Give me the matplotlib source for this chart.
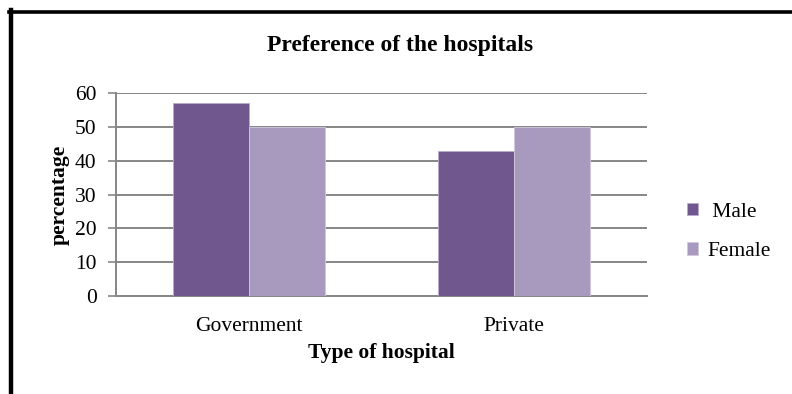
import matplotlib.pyplot as plt
import numpy as np
from matplotlib.lines import Line2D

plt.rcParams['font.family'] = ['Liberation Serif', 'DejaVu Serif']

# hospital preference by gender (%)
categories = ["Government", "Private"]
male = [57.1, 42.9]
female = [50.0, 50.0]
series_labels = [" Male", "Female"]

MALE_COLOR = "#70588E"
FEMALE_COLOR = "#A899BE"
GRID_COLOR = "#868686"
FS = 15.5

fig = plt.figure(figsize=(7.92, 3.94), dpi=100)
ax = fig.add_axes([116 / 792, 1 - 296 / 394, (647 - 116) / 792, (296 - 93) / 394])

x = np.arange(len(categories))
width = 0.2857
b1 = ax.bar(x - width / 2, male, width, color=MALE_COLOR, edgecolor="#B9AACD", linewidth=0.6, zorder=3)
b2 = ax.bar(x + width / 2, female, width, color=FEMALE_COLOR, edgecolor="#D2C8DE", linewidth=0.6, zorder=3)

ax.set_xlim(-0.5, 1.5)
ax.set_ylim(0, 60)
ax.set_yticks(range(0, 61, 10))
ax.set_xticks(x)
ax.set_xticklabels(categories)
ax.tick_params(axis="x", length=0, labelsize=FS, pad=15)
ax.tick_params(axis="y", length=6, color=GRID_COLOR, width=1.2, labelsize=FS, pad=8)

ax.yaxis.grid(True, color=GRID_COLOR, linewidth=1.4, zorder=0)
ax.set_axisbelow(True)
for side in ["top", "right"]:
    ax.spines[side].set_visible(False)
for side in ["left", "bottom"]:
    ax.spines[side].set_color(GRID_COLOR)
    ax.spines[side].set_linewidth(1.4)

ax.set_ylabel("percentage", fontsize=FS, fontweight="bold")
ax.yaxis.set_label_coords(-0.0875, 0.5)
ax.set_xlabel("Type of hospital", fontsize=FS, fontweight="bold", labelpad=5)
fig.text(0.505, 1 - 46 / 394, "Preference of the hospitals", ha="center", va="center",
         fontsize=17, fontweight="bold")

ax.legend([b1, b2], series_labels, loc="center left",
          bbox_to_anchor=(676 / 792, 1 - 232 / 394), bbox_transform=fig.transFigure,
          frameon=False, fontsize=FS, handlelength=0.5, handleheight=0.5,
          handletextpad=0.45, labelspacing=0.95, borderpad=0)

# outer frame (left and top edges)
fig.add_artist(Line2D([10.5 / 792, 10.5 / 792], [0, 1 - 10 / 394], color="black", linewidth=3.2))
fig.add_artist(Line2D([9 / 792, 1], [1 - 11.5 / 394, 1 - 11.5 / 394], color="black", linewidth=2.6))

fig.savefig("out.png", dpi=100)
